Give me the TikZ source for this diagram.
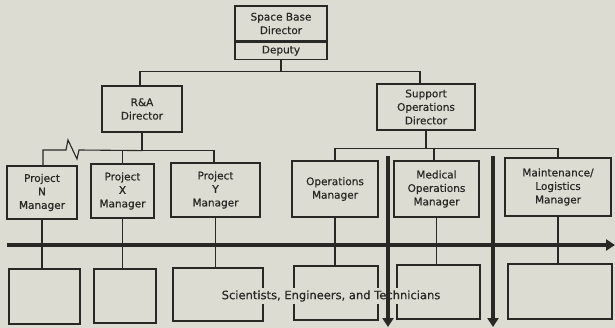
\documentclass[tikz,border=0pt]{standalone}
\usepackage{fontspec}
\setmainfont{DejaVu Sans}
\newfontfamily\chartfont[FakeBold=0.4]{DejaVu Sans}
\usetikzlibrary{arrows.meta}
\definecolor{paper}{RGB}{221,220,210}
\definecolor{ink}{RGB}{40,40,36}
\tikzstyle{box}=[draw=ink,line width=1.2pt,align=center,inner sep=0pt,text=ink,font=\chartfont\fontsize{10.5}{13.5}\selectfont]
\tikzstyle{link}=[draw=ink,line width=1.1pt]
\tikzstyle{flow}=[draw=ink,line width=4pt,-{Triangle[length=9pt,width=11pt]}]

\begin{document}
\begin{tikzpicture}[x=1pt, y=-1pt]
\fill[paper] (0,0) rectangle (615,328);
\useasboundingbox (0,0) rectangle (615,328);
%top
\node[box, minimum width=92pt, minimum height=35pt] (base) at (281,23.5) {Space Base\\Director};
\node[box, minimum width=92pt, minimum height=17pt, anchor=north] (deputy) at (base.south) {Deputy};
%directors
\node[box, minimum width=80pt, minimum height=46pt] (ra) at (142,109) {R\&A\\Director};
\node[box, minimum width=98pt, minimum height=46pt] (sod) at (426,107) {Support\\Operations\\Director};
%managers
\node[box, minimum width=70pt, minimum height=53pt] (projN) at (42,192.5) {Project\\N\\Manager};
\node[box, minimum width=63pt, minimum height=54pt] (projX) at (122.5,191) {Project\\X\\Manager};
\node[box, minimum width=89pt, minimum height=54pt] (projY) at (215.5,190) {Project\\Y\\Manager};
\node[box, minimum width=86pt, minimum height=56pt] (ops) at (335,189) {Operations\\Manager};
\node[box, minimum width=85pt, minimum height=56pt] (med) at (436.5,189) {Medical\\Operations\\Manager};
\node[box, minimum width=106pt, minimum height=58pt] (maint) at (558,187) {Maintenance/\\Logistics\\Manager};
%staff
\node[box, minimum width=71pt, minimum height=55pt] (staffN) at (44.5,296.5) {};
\node[box, minimum width=62pt, minimum height=54pt] (staffX) at (125,296) {};
\node[box, minimum width=90pt, minimum height=53pt] (staffY) at (218,294.5) {};
\node[box, minimum width=84pt, minimum height=54pt] (staffOps) at (336,293) {};
\node[box, minimum width=83pt, minimum height=54pt] (staffMed) at (438.5,292) {};
\node[box, minimum width=104pt, minimum height=55pt] (staffMaint) at (560,291.5) {};

%tree lines
\draw[link] (deputy.south) -- ++(0,12) -| ([xshift=-2pt]ra.north);
\draw[link] (deputy.south) -- ++(0,12) -| ([xshift=-6pt]sod.north);
\draw[link] (ra.south) -- ++(0,18) -| (projX.north);
\draw[link] (ra.south) -- ++(0,18) -| ([xshift=-1.5pt]projY.north);
\draw[link] (ra.south) -- ++(0,18) -- (79,150) -- (77,159) -- (68,140) -- (66,150) -| ([xshift=1pt]projN.north);
\draw[link] (sod.south) -- ++(0,18) -| (ops.north);
\draw[link] (sod.south) -- ++(0,18) -| ([xshift=-2.5pt]med.north);
\draw[link] (sod.south) -- ++(0,18) -| (maint.north);
\foreach \m/\s in {projN/staffN, projX/staffX, projY/staffY, ops/staffOps, med/staffMed, maint/staffMaint}
\draw[link] (\m.south) -- (\m.south |- \s.north);

%flows
\coordinate (flowstart) at (7,245);
\coordinate (flowend) at (615,245);
\draw[flow] (flowstart) -- (flowend);
\node[fill=paper, text=ink, inner sep=2pt, font=\chartfont\fontsize{11.5}{14}\selectfont] (label) at (331,296) {Scientists, Engineers, and Technicians};
\foreach \x in {388,493} {
\coordinate (top\x) at (\x,156);
\coordinate (bottom\x) at (\x,327);
\draw[flow] (top\x) -- (bottom\x);
}
\end{tikzpicture}
\end{document}
